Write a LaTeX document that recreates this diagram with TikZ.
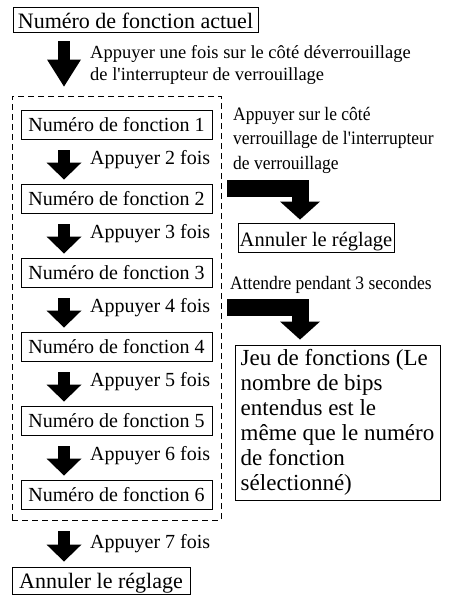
\documentclass[tikz,border=0pt]{standalone}
\usepackage{fontspec}
\setmainfont{Liberation Serif}
\newfontfamily\condfont[FakeStretch=0.92]{Liberation Serif}
\usetikzlibrary{arrows.meta}
\begin{document}
\begin{tikzpicture}[x=1pt,y=-1pt,
  box/.style={draw, line width=0.9pt, inner sep=0pt, align=center},
  lbl/.style={inner sep=0pt, anchor=base west, font=\fontsize{20}{24}\selectfont},
  numbox/.style={box, minimum width=191pt, text height=21pt, text depth=8pt, font=\fontsize{20}{24}\selectfont},
  blk/.style={draw=black, line width=12pt, -{Triangle[width=35pt,length=17pt,line width=0pt]}},
  bent/.style={draw=black, line width=17pt, line join=miter, -{Triangle[width=40pt,length=18pt,line width=0pt]}},
  grpbox/.style={draw, dash pattern=on 6pt off 4pt, line width=0.9pt, inner sep=0pt},
  rlbl/.style={inner sep=0pt, align=left, font=\condfont\fontsize{19}{24.5}\selectfont}
]
\useasboundingbox (0,0) rectangle (450,595);

% top box
\node[box, minimum width=245pt, text height=21.5pt, text depth=3.5pt, font=\fontsize{22}{26}\selectfont] (cur) at (135.5,19.5) {Numéro de fonction actuel};

% dashed group
\node[grpbox, minimum width=209pt, minimum height=424pt] (grp) at (116.5,308) {};

% function boxes
\node[numbox] (f1) at (116.5,124.5) {Numéro de fonction 1};
\node[numbox] (f2) at (116.5,198.5) {Numéro de fonction 2};
\node[numbox] (f3) at (116.5,272.5) {Numéro de fonction 3};
\node[numbox] (f4) at (116.5,346.5) {Numéro de fonction 4};
\node[numbox] (f5) at (116.5,420.5) {Numéro de fonction 5};
\node[numbox] (f6) at (116.5,494.5) {Numéro de fonction 6};

% bottom cancel box
\node[box, minimum width=178pt, text height=21pt, text depth=6pt, font=\fontsize{22}{26}\selectfont] (cancel1) at (101,580.5) {Annuler le réglage};

% right cancel box
\node[box, minimum width=156pt, text height=23.5pt, text depth=5.5pt, font=\fontsize{20.5}{24}\selectfont] (cancel2) at (316,237.5) {Annuler le réglage};

% function set box
\node[draw, line width=0.9pt, inner sep=0pt, minimum width=205pt, minimum height=155pt, align=left, font=\fontsize{23}{25}\selectfont] (jeu) at (337.5,422.5) {Jeu de fonctions (Le\\nombre de bips\\entendus est le\\même que le numéro\\de fonction\\sélectionné)};

% labels
\node[lbl, anchor=north west, align=left, font=\fontsize{18.5}{22}\selectfont] (l1) at (90,45.5) {Appuyer une fois sur le côté déverrouillage\\de l\textquotesingle interrupteur de verrouillage};
\node[lbl] (l2) at (90,164) {Appuyer 2 fois};
\node[lbl] (l3) at (90,238) {Appuyer 3 fois};
\node[lbl] (l4) at (90,312) {Appuyer 4 fois};
\node[lbl] (l5) at (90,386) {Appuyer 5 fois};
\node[lbl] (l6) at (90,460) {Appuyer 6 fois};
\node[lbl] (l7) at (90,548) {Appuyer 7 fois};
\node[rlbl, anchor=north west] (r1) at (233,107) {Appuyer sur le côté\\verrouillage de l\textquotesingle interrupteur\\de verrouillage};
\node[rlbl, anchor=base west] (r2) at (230,289) {Attendre pendant 3 secondes};

% straight arrows
\coordinate (ax) at (64,0);
\draw[blk, -{Triangle[width=34pt,length=27pt,line width=0pt]}, shorten <=9pt, shorten >=9pt] (cur.south -| ax) -- (grp.north -| ax);
\draw[blk, shorten <=11pt, shorten >=4pt] (f1.south -| ax) -- (f2.north -| ax);
\draw[blk, shorten <=11pt, shorten >=4pt] (f2.south -| ax) -- (f3.north -| ax);
\draw[blk, shorten <=11pt, shorten >=4pt] (f3.south -| ax) -- (f4.north -| ax);
\draw[blk, shorten <=11pt, shorten >=4pt] (f4.south -| ax) -- (f5.north -| ax);
\draw[blk, shorten <=11pt, shorten >=4pt] (f5.south -| ax) -- (f6.north -| ax);
\draw[blk, shorten <=11pt, shorten >=5pt] (grp.south -| ax) -- (cancel1.north -| ax);

% bent arrows
\coordinate (bx) at (300,0);
\coordinate (s1) at (0,188);
\coordinate (s2) at (0,307);
\draw[bent, shorten <=6pt, shorten >=3pt] (grp.east |- s1) -- (bx |- s1) -- (bx |- cancel2.north);
\draw[bent, shorten <=6pt, shorten >=5pt] (grp.east |- s2) -- (bx |- s2) -- (bx |- jeu.north);
\end{tikzpicture}
\end{document}
